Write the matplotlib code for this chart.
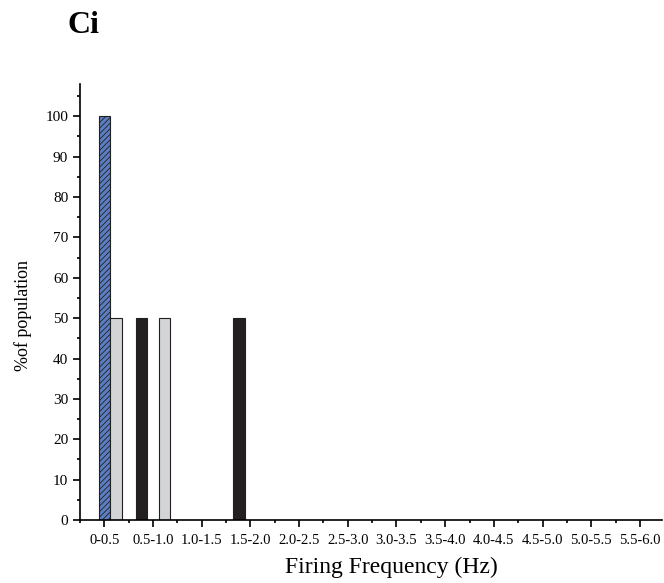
import numpy as np
import matplotlib
matplotlib.use("Agg")
import matplotlib.pyplot as plt
from matplotlib.ticker import MultipleLocator

plt.rcParams['font.family'] = ['Liberation Serif', 'DejaVu Serif']
plt.rcParams['hatch.linewidth'] = 0.6

# firing frequency bins (Hz)
bins = ['0-0.5', '0.5-1.0', '1.0-1.5', '1.5-2.0', '2.0-2.5', '2.5-3.0',
        '3.0-3.5', '3.5-4.0', '4.0-4.5', '4.5-5.0', '5.0-5.5', '5.5-6.0']

# % of population per group
black_vals = [0, 50, 0, 50, 0, 0, 0, 0, 0, 0, 0, 0]
blue_vals = [100, 0, 0, 0, 0, 0, 0, 0, 0, 0, 0, 0]
gray_vals = [50, 50, 0, 0, 0, 0, 0, 0, 0, 0, 0, 0]

fig = plt.figure(figsize=(6.64, 5.83), dpi=100)
ax = fig.add_axes([0.1205, 0.108, 0.877, 0.748])

x = np.arange(len(bins))
w = 0.235
edge = '#231f20'

def draw(vals, offset, **kw):
    xs = [xi + offset for xi, v in zip(x, vals) if v > 0]
    hs = [v for v in vals if v > 0]
    ax.bar(xs, hs, w, edgecolor=edge, linewidth=0.8, **kw)

draw(black_vals, -w, color='#231f20')
draw(blue_vals, 0, color='#5b7ec2', hatch='//////')
draw(gray_vals, w, color='#d3d4d6')

ax.set_xlim(-0.5, 11.46)
ax.set_ylim(0, 108)
ax.set_xticks(x)
ax.set_xticklabels(bins, fontsize=10.5)
ax.set_xticks(x - 0.5, minor=True)
ax.yaxis.set_minor_locator(MultipleLocator(5))
ax.set_yticks(np.arange(0, 101, 10))
ax.tick_params(axis='y', labelsize=11)

for s in ['top', 'right']:
    ax.spines[s].set_visible(False)
for s in ['left', 'bottom']:
    ax.spines[s].set_linewidth(1.2)
ax.tick_params(which='major', direction='out', length=5, width=1.2)
ax.tick_params(which='minor', direction='out', length=2.5, width=1.2)
ax.tick_params(axis='x', which='major', pad=5)

ax.set_xlabel('Firing Frequency (Hz)', fontsize=17, labelpad=7)
ax.xaxis.label.set_x(0.534)
ax.set_ylabel('%of population', fontsize=13)
ax.yaxis.set_label_coords(-0.083, 0.468)

fig.text(0.101, 0.957, 'Ci', fontsize=23, fontweight='bold', va='center')

fig.savefig('out.png', dpi=100)
